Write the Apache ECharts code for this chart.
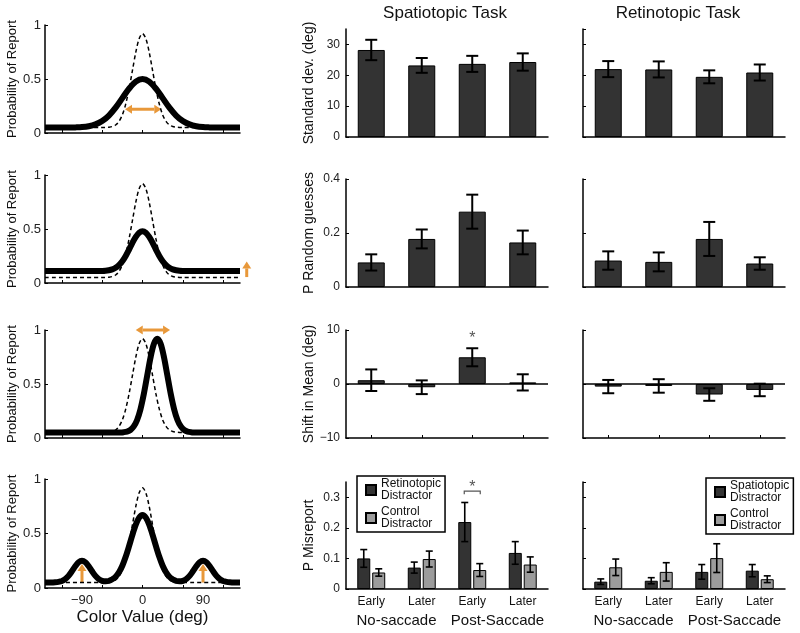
<!DOCTYPE html>
<html>
<head>
<meta charset="utf-8">
<script src="https://cdn.jsdelivr.net/npm/echarts@6/dist/echarts.min.js"></script>
<style>
html, body { margin: 0; padding: 0; background: #fff; }
#chart { width: 800px; height: 633px; }
</style>
</head>
<body>
<div id="chart"></div>
<script>
// ---- left column: model curves, [colour value (deg), probability of report]
const idealCurve = [[-145,0.05],[-60,0.05],[-55,0.051],[-50,0.054],[-45,0.06],[-40,0.074],[-35,0.107],[-30,0.167],[-25,0.267],[-20,0.408],[-15,0.578],[-10,0.747],[-5,0.873],[0,0.92],[5,0.873],[10,0.747],[15,0.578],[20,0.408],[25,0.267],[30,0.167],[35,0.107],[40,0.074],[45,0.06],[50,0.054],[55,0.051],[60,0.05],[145,0.05]]
const widerCurve = [[-145,0.05],[-110,0.05],[-100,0.052],[-90,0.055],[-80,0.063],[-70,0.08],[-60,0.111],[-50,0.162],[-40,0.235],[-30,0.323],[-20,0.41],[-10,0.476],[0,0.5],[10,0.476],[20,0.41],[30,0.323],[40,0.235],[50,0.162],[60,0.111],[70,0.08],[80,0.063],[90,0.055],[100,0.052],[110,0.05],[145,0.05]]
const guessCurve = [[-145,0.11],[-70,0.11],[-60,0.111],[-55,0.113],[-50,0.118],[-45,0.126],[-40,0.141],[-35,0.166],[-30,0.202],[-25,0.251],[-20,0.31],[-15,0.372],[-10,0.427],[-5,0.466],[0,0.48],[5,0.466],[10,0.427],[15,0.372],[20,0.31],[25,0.251],[30,0.202],[35,0.166],[40,0.141],[45,0.126],[50,0.118],[55,0.113],[60,0.111],[70,0.11],[145,0.11]]
const shiftCurve = [[-145,0.05],[-38,0.05],[-33,0.051],[-28,0.054],[-23,0.06],[-18,0.074],[-13,0.107],[-8,0.167],[-3,0.267],[2,0.408],[7,0.578],[12,0.747],[17,0.873],[22,0.92],[27,0.873],[32,0.747],[37,0.578],[42,0.408],[47,0.267],[52,0.167],[57,0.107],[62,0.074],[67,0.06],[72,0.054],[77,0.051],[82,0.05],[145,0.05]]
const misreportCurve = [[-145,0.05],[-135,0.05],[-130,0.052],[-125,0.056],[-120,0.064],[-115,0.081],[-110,0.111],[-105,0.153],[-100,0.199],[-95,0.236],[-90,0.25],[-85,0.236],[-80,0.199],[-75,0.153],[-70,0.111],[-65,0.082],[-60,0.066],[-55,0.062],[-50,0.065],[-45,0.08],[-40,0.103],[-35,0.144],[-30,0.204],[-25,0.286],[-20,0.384],[-15,0.488],[-10,0.581],[-5,0.646],[0,0.67],[5,0.646],[10,0.581],[15,0.488],[20,0.384],[25,0.286],[30,0.204],[35,0.144],[40,0.103],[45,0.08],[50,0.065],[55,0.062],[60,0.066],[65,0.082],[70,0.111],[75,0.153],[80,0.199],[85,0.236],[90,0.25],[95,0.236],[100,0.199],[105,0.153],[110,0.111],[115,0.081],[120,0.064],[125,0.056],[130,0.052],[135,0.05],[145,0.05]]
const colorTicks = [-120, -60, 0, 60, 120]
const colorLabels = [-90, 0, 90]

// orange arrows, in data coordinates of each left panel
const widthArrows = [{ grid: 0, from: [-26, 0.22], to: [28, 0.22] }, { grid: 2, from: [-10, 1.0], to: [41, 1.0] }]
const upArrows = [{ grid: 1, from: [155, 0.055], to: [155, 0.2] }, { grid: 3, from: [-90, 0.05], to: [-90, 0.22] }, { grid: 3, from: [90, 0.05], to: [90, 0.22] }]

// ---- bar panels
const sessionLabels = ['Early', 'Later', 'Early', 'Later']
const conditionLabels = ['No-saccade', 'Post-Saccade']

const spatioSD = [28.2, 23.2, 23.7, 24.3]
const spatioSDErr = [3.3, 2.4, 2.6, 2.8]
const retinoSD = [22.0, 21.9, 19.5, 20.9]
const retinoSDErr = [2.6, 2.6, 2.1, 2.6]

const spatioGuess = [0.091, 0.178, 0.279, 0.165]
const spatioGuessErr = [0.03, 0.035, 0.063, 0.044]
const retinoGuess = [0.098, 0.093, 0.178, 0.087]
const retinoGuessErr = [0.034, 0.035, 0.063, 0.023]

const spatioShift = [0.7, -0.6, 4.95, 0.3]
const spatioShiftErr = [2.0, 1.27, 1.67, 1.5]
const retinoShift = [-0.48, -0.36, -1.95, -1.1]
const retinoShiftErr = [1.23, 1.25, 1.16, 1.16]

const spatioMisTarget = [0.1, 0.07, 0.219, 0.118]
const spatioMisTargetErr = [0.029, 0.018, 0.064, 0.037]
const spatioMisControl = [0.054, 0.098, 0.062, 0.08]
const spatioMisControlErr = [0.012, 0.026, 0.021, 0.025]
const retinoMisTarget = [0.024, 0.027, 0.056, 0.06]
const retinoMisTargetErr = [0.009, 0.01, 0.024, 0.02]
const retinoMisControl = [0.071, 0.056, 0.101, 0.032]
const retinoMisControlErr = [0.027, 0.03, 0.047, 0.011]

const shiftStars = [[2, 9]]
const misreportBrackets = [[2, 0.32]]

const sans = 'Liberation Sans, Arial, sans-serif'
const orange = '#e8983a'
const axisLine = { color: '#000', width: 1.5 }

let chart = echarts.init(document.getElementById('chart'))

let grids = []
let xAxes = []
let yAxes = []
let series = []

// left column
const curveRows = [{ top: 25, height: 108 }, { top: 175, height: 108 }, { top: 330, height: 108 }, { top: 479, height: 109 }]
const curves = [widerCurve, guessCurve, shiftCurve, misreportCurve]
curveRows.forEach((row, i) => {
    const last = i === 3
    grids.push({ left: 45, width: 195, top: row.top, height: row.height, outerBoundsMode: 'none' })
    xAxes.push({
        gridIndex: i, type: 'value', min: -145, max: 145,
        axisLine: { onZero: false, lineStyle: axisLine },
        axisTick: { inside: true, length: 3, customValues: colorTicks, lineStyle: { color: '#000' } },
        axisLabel: {
            show: last, customValues: colorLabels, fontFamily: sans, fontSize: 13, color: '#222', margin: 6,
            formatter: v => v < 0 ? '\u2212' + Math.abs(v) : String(v)
        },
        splitLine: { show: false },
        name: last ? 'Color Value (deg)' : '', nameLocation: 'middle', nameGap: 21,
        nameTextStyle: { fontFamily: sans, fontSize: 17, color: '#111' }
    })
    yAxes.push({
        gridIndex: i, type: 'value', min: 0, max: 1, interval: 0.5,
        axisLine: { show: true, onZero: false, lineStyle: axisLine },
        axisTick: { show: true, inside: true, length: 3, lineStyle: { color: '#000' } },
        axisLabel: { fontFamily: sans, fontSize: 13, color: '#222', margin: 4 },
        splitLine: { show: false },
        name: 'Probability of Report', nameLocation: 'middle', nameGap: 26,
        nameTextStyle: { fontFamily: sans, fontSize: 13, color: '#111' }
    })
    series.push({
        type: 'line', xAxisIndex: i, yAxisIndex: i, data: idealCurve, showSymbol: false, smooth: 0.3, silent: true, z: 2,
        lineStyle: { color: '#000', width: 1.5, type: [4, 3] }
    })
    series.push({
        type: 'line', xAxisIndex: i, yAxisIndex: i, data: curves[i], showSymbol: false, smooth: 0.3, silent: true, z: 3,
        lineStyle: { color: '#000', width: 6 }
    })
})

// error bars drawn through the axes
function makeErrorBars(offset, capHalf, width) {
    return function (params, api) {
        const i = api.value(0), m = api.value(1), e = api.value(2)
        const hi = api.coord([i, m + e])
        const lo = api.coord([i, m - e])
        const x = hi[0] + offset
        const style = { stroke: '#000', lineWidth: width }
        return {
            type: 'group', children: [
                { type: 'line', shape: { x1: x, y1: hi[1], x2: x, y2: lo[1] }, style },
                { type: 'line', shape: { x1: x - capHalf, y1: hi[1], x2: x + capHalf, y2: hi[1] }, style },
                { type: 'line', shape: { x1: x - capHalf, y1: lo[1], x2: x + capHalf, y2: lo[1] }, style }
            ]
        }
    }
}
const withErr = (m, e) => m.map((v, i) => [i, v, e[i]])

const barRows = [{ top: 29, height: 108 }, { top: 179, height: 108 }, { top: 330, height: 108 }, { top: 482, height: 107 }]
const barCols = [{ left: 346, width: 202 }, { left: 583, width: 202 }]
const barAxes = [
    { min: 0, max: 35, interval: 10, name: 'Standard dev. (deg)', showMax: false },
    { min: 0, max: 0.4, interval: 0.2, name: 'P Random guesses', showMax: true },
    { min: -10, max: 10, interval: 10, name: 'Shift in Mean (deg)', showMax: true },
    { min: 0, max: 0.35, interval: 0.1, name: 'P Misreport', showMax: false }
]
const singleData = [
    [[spatioSD, spatioSDErr], [spatioGuess, spatioGuessErr], [spatioShift, spatioShiftErr]],
    [[retinoSD, retinoSDErr], [retinoGuess, retinoGuessErr], [retinoShift, retinoShiftErr]]
]
const groupedData = [
    { dark: 'Retinotopic\nDistractor', target: [spatioMisTarget, spatioMisTargetErr], control: [spatioMisControl, spatioMisControlErr] },
    { dark: 'Spatiotopic\nDistractor', target: [retinoMisTarget, retinoMisTargetErr], control: [retinoMisControl, retinoMisControlErr] }
]
const darkBar = { color: '#333', borderColor: '#000', borderWidth: 1 }
const lightBar = { color: '#9c9c9c', borderColor: '#000', borderWidth: 1 }

let bottomGrids = []
barCols.forEach((col, c) => {
    barRows.forEach((row, r) => {
        const g = grids.length
        const ax = barAxes[r]
        grids.push({ left: col.left, width: col.width, top: row.top, height: row.height, outerBoundsMode: 'none' })
        xAxes.push({
            gridIndex: g, type: 'category', data: sessionLabels,
            axisLine: { onZero: false, lineStyle: axisLine },
            axisTick: { show: r === 2, inside: true, length: 3, alignWithLabel: true, lineStyle: { color: '#000' } },
            axisLabel: { show: r === 3, interval: 0, fontFamily: sans, fontSize: 12, color: '#111', margin: 7 },
            splitLine: { show: false }
        })
        yAxes.push({
            gridIndex: g, type: 'value', min: ax.min, max: ax.max, interval: ax.interval,
            axisLine: { show: true, onZero: false, lineStyle: axisLine },
            axisTick: { show: true, inside: true, length: 3, lineStyle: { color: '#000' } },
            axisLabel: {
                show: c === 0, showMaxLabel: ax.showMax, fontFamily: sans, fontSize: 12, color: '#222', margin: 6,
                formatter: v => v < 0 ? '\u2212' + Math.abs(v) : String(v)
            },
            splitLine: { show: false },
            name: c === 0 ? ax.name : '', nameLocation: 'middle', nameGap: 30,
            nameTextStyle: { fontFamily: sans, fontSize: 14, color: '#111' }
        })
        if (r < 3) {
            const [m, e] = singleData[c][r]
            const bar = { type: 'bar', xAxisIndex: g, yAxisIndex: g, data: m, barWidth: 27, itemStyle: darkBar, silent: true }
            if (r === 2) {
                bar.markLine = {
                    silent: true, symbol: 'none', label: { show: false },
                    lineStyle: { color: '#000', width: 1.5, type: 'solid' }, data: [{ yAxis: 0 }]
                }
            }
            series.push(bar)
            series.push({ type: 'custom', xAxisIndex: g, yAxisIndex: g, data: withErr(m, e), renderItem: makeErrorBars(0, 6, 2), z: 5, silent: true })
        } else {
            const gd = groupedData[c]
            bottomGrids.push(g)
            series.push({ type: 'bar', name: gd.dark, xAxisIndex: g, yAxisIndex: g, data: gd.target[0], barWidth: 13, barGap: '15%', itemStyle: darkBar, silent: true })
            series.push({ type: 'bar', name: 'Control\nDistractor', xAxisIndex: g, yAxisIndex: g, data: gd.control[0], barWidth: 13, barGap: '15%', itemStyle: lightBar, silent: true })
            series.push({ type: 'custom', xAxisIndex: g, yAxisIndex: g, data: withErr(gd.target[0], gd.target[1]), renderItem: makeErrorBars(-7.5, 3.5, 1.6), z: 5, silent: true })
            series.push({ type: 'custom', xAxisIndex: g, yAxisIndex: g, data: withErr(gd.control[0], gd.control[1]), renderItem: makeErrorBars(7.5, 3.5, 1.6), z: 5, silent: true })
        }
    })
})

// group labels under the bottom bar panels
bottomGrids.forEach(g => {
    xAxes.push({
        gridIndex: g, type: 'category', data: conditionLabels, position: 'bottom', offset: 18,
        axisLine: { show: false }, axisTick: { show: false },
        axisLabel: { interval: 0, hideOverlap: false, fontFamily: sans, fontSize: 15, color: '#111', margin: 6 },
        splitLine: { show: false }
    })
})

// significance marks
const starStyle = { text: '*', fill: '#555', fontSize: 16, fontFamily: sans, align: 'center', verticalAlign: 'middle' }
series.push({
    type: 'custom', xAxisIndex: 6, yAxisIndex: 6, data: shiftStars, silent: true, z: 6,
    renderItem: (params, api) => {
        const p = api.coord([api.value(0), api.value(1)])
        return { type: 'text', x: p[0], y: p[1] + 3, style: starStyle }
    }
})
series.push({
    type: 'custom', xAxisIndex: 7, yAxisIndex: 7, data: misreportBrackets, silent: true, z: 6,
    renderItem: (params, api) => {
        const p = api.coord([api.value(0), api.value(1)])
        const x1 = p[0] - 8, x2 = p[0] + 8, y = p[1]
        return {
            type: 'group', children: [
                { type: 'polyline', shape: { points: [[x1, y + 3], [x1, y], [x2, y], [x2, y + 3]] }, style: { stroke: '#555', lineWidth: 1.2, fill: null } },
                { type: 'text', x: p[0], y: y - 4, style: starStyle }
            ]
        }
    }
})

const legendBase = {
    orient: 'vertical', icon: 'rect', itemWidth: 10, itemHeight: 10, itemGap: 4,
    padding: [2, 4, 2, 8], borderColor: '#000', borderWidth: 1.5, selectedMode: false,
    textStyle: { fontFamily: sans, fontSize: 12, lineHeight: 12, color: '#111' }
}

let option = {
    animation: false,
    backgroundColor: '#fff',
    grid: grids,
    xAxis: xAxes,
    yAxis: yAxes,
    legend: [
        Object.assign({ data: ['Retinotopic\nDistractor', 'Control\nDistractor'], left: 357, top: 476 }, legendBase),
        Object.assign({ data: ['Spatiotopic\nDistractor', 'Control\nDistractor'], left: 706, top: 478 }, legendBase)
    ],
    series: series
}
chart.setOption(option)

// titles and orange arrows, placed through the grids' own scales
function arrow(grid, from, to, twoHeads) {
    const a = chart.convertToPixel({ gridIndex: grid }, from)
    const b = chart.convertToPixel({ gridIndex: grid }, to)
    const len = Math.hypot(b[0] - a[0], b[1] - a[1])
    const ux = (b[0] - a[0]) / len, uy = (b[1] - a[1]) / len
    const nx = -uy, ny = ux
    const hl = 7, hw = 4.5
    const head = (p, sx, sy) => ({
        type: 'polygon',
        shape: { points: [[p[0], p[1]], [p[0] - sx * hl + nx * hw, p[1] - sy * hl + ny * hw], [p[0] - sx * hl - nx * hw, p[1] - sy * hl - ny * hw]] },
        style: { fill: orange }
    })
    const start = twoHeads ? [a[0] + ux * hl, a[1] + uy * hl] : a
    const end = [b[0] - ux * hl, b[1] - uy * hl]
    const parts = [
        { type: 'line', shape: { x1: start[0], y1: start[1], x2: end[0], y2: end[1] }, style: { stroke: orange, lineWidth: 3 } },
        head(b, ux, uy)
    ]
    if (twoHeads) parts.push(head(a, -ux, -uy))
    return { type: 'group', silent: true, z: 10, children: parts }
}

let graphics = [
    { type: 'text', x: 445, y: 13, style: { text: 'Spatiotopic Task', fontFamily: sans, fontSize: 17, fill: '#111', align: 'center', verticalAlign: 'middle' } },
    { type: 'text', x: 678, y: 13, style: { text: 'Retinotopic Task', fontFamily: sans, fontSize: 17, fill: '#111', align: 'center', verticalAlign: 'middle' } }
]
widthArrows.forEach(a => graphics.push(arrow(a.grid, a.from, a.to, true)))
upArrows.forEach(a => graphics.push(arrow(a.grid, a.from, a.to, false)))
chart.setOption({ graphic: graphics })
</script>
</body>
</html>
